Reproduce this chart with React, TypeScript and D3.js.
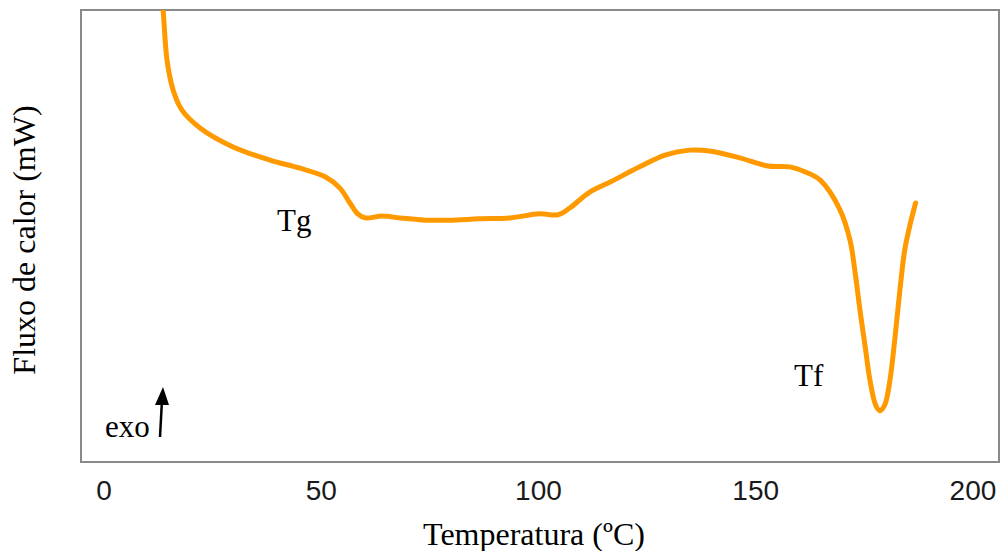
import React from "react";
import * as d3 from "d3";

const temps = [13.1, 13.6, 14.5, 15.9, 17.9, 22.1, 29.7, 38.2, 45.1, 50.9, 54.3, 56.6, 58.4, 60.1, 64.0, 68.1, 73.9, 79.6, 86.5, 93.4, 100.3, 104.5, 107.2, 111.8, 116.4, 123.3, 129.1, 134.8, 139.4, 146.3, 152.8, 157.8, 161.3, 164.8, 169.4, 171.7, 172.8, 174.0, 175.3, 176.3, 177.6, 178.6, 179.7, 180.9, 182.0, 183.2, 184.3, 185.5, 186.8];
const flux = [10.44, 10.0, 8.89, 8.23, 7.79, 7.39, 6.97, 6.68, 6.5, 6.31, 6.06, 5.73, 5.49, 5.4, 5.44, 5.4, 5.35, 5.35, 5.38, 5.4, 5.49, 5.47, 5.62, 5.97, 6.19, 6.53, 6.79, 6.9, 6.88, 6.73, 6.55, 6.53, 6.42, 6.24, 5.58, 4.91, 4.25, 3.36, 2.48, 1.81, 1.26, 1.13, 1.26, 1.81, 2.7, 3.81, 4.69, 5.24, 5.73];
const xTicks = [0, 50, 100, 150, 200];
const xTitle = "Temperatura (ºC)";
const yTitle = "Fluxo de calor (mW)";

export default function App() {
  const W = 1002, H = 551;
  const left = 81, top = 10, right = 999, bottom = 462;
  const x = d3.scaleLinear().domain([-5.3, 206]).range([left, right]);
  const y = d3.scaleLinear().domain([0, 10]).range([bottom, top]);
  const pts = temps.map((t, i) => [t, flux[i]] as [number, number]);
  const line = d3
    .line<[number, number]>()
    .x((d) => x(d[0]))
    .y((d) => y(d[1]))
    .curve(d3.curveCatmullRom.alpha(0.5));
  const serif = "'Liberation Serif', 'Times New Roman', serif";
  return (
    <svg width={W} height={H} style={{ position: "absolute", left: 0, top: 0 }}>
      <rect x={0} y={0} width={W} height={H} fill="#fff" />
      <defs>
        <clipPath id="plotclip">
          <rect x={left} y={top} width={right - left} height={bottom - top} />
        </clipPath>
      </defs>
      <rect x={left} y={top} width={right - left} height={bottom - top} fill="none" stroke="#8a8a8a" strokeWidth={2} />
      <path d={line(pts) || ""} fill="none" stroke="#FF9900" strokeWidth={5} strokeLinecap="round" strokeLinejoin="round" clipPath="url(#plotclip)" />
      {xTicks.map((t) => (
        <text key={t} x={x(t)} y={500} textAnchor="middle" fontFamily="'Liberation Sans', Arial, sans-serif" fontSize={28} fill="#1a1a1a">
          {t}
        </text>
      ))}
      <text x={534} y={545} textAnchor="middle" fontFamily={serif} fontSize={32} fill="#000">
        {xTitle}
      </text>
      <text transform={`translate(35, 240) rotate(-90)`} textAnchor="middle" fontFamily={serif} fontSize={32} fill="#000">
        {yTitle}
      </text>
      <text x={277} y={231} fontFamily={serif} fontSize={31} fill="#000">Tg</text>
      <text x={794} y={386} fontFamily={serif} fontSize={31} fill="#000">Tf</text>
      <text x={105} y={437} fontFamily={serif} fontSize={31} fill="#000">exo</text>
      <line x1={160} y1={437} x2={162} y2={400} stroke="#000" strokeWidth={2.5} />
      <path d="M155,405 L163,387 L169,405 Z" fill="#000" />
    </svg>
  );
}
